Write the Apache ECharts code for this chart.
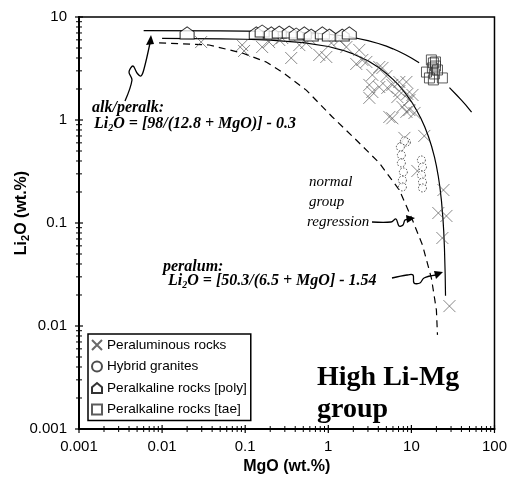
<!DOCTYPE html>
<html lang="en">
<head>
<meta charset="UTF-8">
<title>High Li-Mg group</title>
<script src="https://cdn.jsdelivr.net/npm/echarts@6/dist/echarts.min.js"></script>
<style>
html, body { margin: 0; padding: 0; background: #fff; }
#main { width: 510px; height: 480px; }
</style>
</head>
<body>
<div id="main"></div>
<script>
// points, [MgO, Li2O] in wt.%
var peraluminous = [
    [0.0295, 5.71], [0.092, 5.34], [0.097, 4.68], [0.16, 5.11], [0.194, 5.71], [0.257, 5.98],
    [0.279, 6.25], [0.358, 4.0], [0.448, 5.34], [0.543, 5.59], [0.59, 6.25], [0.78, 4.28],
    [0.946, 4.09], [1.09, 5.59], [1.25, 6.68], [1.36, 5.98], [1.65, 5.11], [2.17, 3.5],
    [2.36, 4.79], [2.57, 3.83], [2.87, 3.66], [3.39, 2.74], [4.11, 3.27], [4.48, 3.2],
    [5.0, 2.67], [3.12, 2.19], [3.39, 1.87], [4.11, 2.09], [5.14, 2.05], [5.9, 2.19],
    [7.16, 2.34], [8.71, 2.34], [3.12, 1.64], [6.78, 1.67], [7.16, 1.91], [8.95, 1.79],
    [9.46, 1.56], [10.3, 1.75], [7.8, 1.34], [5.43, 1.07], [5.9, 1.04], [9.46, 1.25],
    [10.9, 1.17], [8.71, 1.2], [14.3, 0.7], [8.24, 0.67], [11.8, 0.32], [24.3, 0.209],
    [21.1, 0.125], [26.4, 0.117], [23.6, 0.0715], [28.7, 0.0156]
];
var hybrid = [
    [8.71, 0.611], [8.24, 0.625], [7.37, 0.547], [7.58, 0.457], [7.58, 0.383], [8.01, 0.313],
    [7.8, 0.261], [7.8, 0.224], [13.2, 0.409], [13.6, 0.35], [13.2, 0.292], [13.6, 0.25],
    [13.6, 0.219]
];
var peralkPoly = [
    [0.02, 7.0], [0.136, 7.0], [0.16, 7.31], [0.206, 7.0], [0.257, 7.14], [0.339, 7.14],
    [0.411, 6.84], [0.514, 7.0], [0.623, 6.68], [0.848, 7.0], [1.03, 6.68], [1.47, 6.68],
    [1.79, 7.0]
];
var peralkTae = [
    [17.4, 3.83], [18.4, 3.58], [19.5, 3.34], [17.9, 3.2], [20.6, 3.06], [15.2, 2.92],
    [18.9, 2.8], [16.5, 2.56], [18.4, 2.45], [23.6, 2.56], [19.5, 3.66]
];

// curves
var alkCurveA = [
    [0.006, 7.36], [0.05, 7.32], [0.1, 7.3], [0.2, 7.24], [0.5, 7.07], [0.7, 6.96], [1, 6.8],
    [1.5, 6.55], [2, 6.32], [3, 5.9], [4, 5.53], [5, 5.21], [6, 4.91], [7, 4.65], [8.5, 4.3],
    [10, 4.0], [12.4, 3.59]
];
var alkCurveB = [[28.7, 2.06], [35, 1.75], [40, 1.56], [45, 1.4], [53, 1.19]];
var peralumCurve = [
    [0.01, 6.19], [0.05, 6.14], [0.1, 6.08], [0.2, 5.97], [0.5, 5.65], [1, 5.17], [1.5, 4.75],
    [2, 4.38], [3, 3.76], [4, 3.25], [5, 2.83], [6, 2.48], [7, 2.19], [8.5, 1.81], [10, 1.51],
    [11.5, 1.25], [13, 1.04], [14.5, 0.855], [16, 0.696], [17.5, 0.556], [19, 0.433],
    [20, 0.358], [21, 0.289], [22, 0.225], [23, 0.165], [24, 0.109], [24.5, 0.083],
    [25, 0.057], [25.5, 0.032], [25.75, 0.0197]
];
var normalCurve = [
    [0.0092, 5.6], [0.0368, 5.35], [0.092, 4.47], [0.179, 3.66], [0.279, 2.92], [0.543, 1.95],
    [1.12, 1.07], [2.17, 0.64], [4.11, 0.383], [7.16, 0.209], [10.3, 0.107], [13.6, 0.061],
    [17.4, 0.0292], [20.0, 0.0143], [20.6, 0.0082]
];

// axis ticks
var xMajor = [0.001, 0.01, 0.1, 1, 10, 100];
var xMinor = [
    0.002, 0.003, 0.004, 0.005, 0.006, 0.007, 0.008, 0.009,
    0.02, 0.03, 0.04, 0.05, 0.06, 0.07, 0.08, 0.09,
    0.2, 0.3, 0.4, 0.5, 0.6, 0.7, 0.8, 0.9,
    2, 3, 4, 5, 6, 7, 8, 9,
    20, 30, 40, 50, 60, 70, 80, 90
];
var yMajor = [0.001, 0.01, 0.1, 1, 10];
var yMinor = [
    0.002, 0.003, 0.004, 0.005, 0.006, 0.007, 0.008, 0.009,
    0.02, 0.03, 0.04, 0.05, 0.06, 0.07, 0.08, 0.09,
    0.2, 0.3, 0.4, 0.5, 0.6, 0.7, 0.8, 0.9,
    2, 3, 4, 5, 6, 7, 8, 9
];

var chart = echarts.init(document.getElementById('main'));

var SANS = '"Liberation Sans", Arial, sans-serif';
var SERIF = '"Liberation Serif", "Times New Roman", serif';

function curve(name, data, dash) {
    return {
        name: name, type: 'line', data: data, symbol: 'none', silent: true,
        lineStyle: { color: '#000', width: 1.2, type: dash || 'solid' },
        z: 2
    };
}
// squiggly arrow shaft
function squiggle(points) {
    return {
        type: 'polyline', shape: { points: points, smooth: 0.35 },
        style: { fill: null, stroke: '#000', lineWidth: 1.3 }
    };
}
function tickLine(x1, y1, x2, y2, w) {
    return {
        type: 'line', silent: true, z: 10,
        shape: { x1: x1, y1: y1, x2: x2, y2: y2 },
        style: { stroke: '#000', lineWidth: w }
    };
}

// rich-text styles for formulas with a subscript
var formulaRich = {
    m: { fontFamily: SERIF, fontStyle: 'italic', fontWeight: 'bold', fontSize: 16, color: '#000', lineHeight: 18 },
    s: { fontFamily: SERIF, fontStyle: 'italic', fontWeight: 'bold', fontSize: 10, color: '#000', lineHeight: 18, verticalAlign: 'bottom' }
};
var plainItalic = { fontFamily: SERIF, fontStyle: 'italic', fontSize: 15, fill: '#000', verticalAlign: 'middle' };
var boldItalic = { fontFamily: SERIF, fontStyle: 'italic', fontWeight: 'bold', fontSize: 16, fill: '#000', verticalAlign: 'middle' };

var annotations = [
    // y axis title
    {
        type: 'text', x: 22, y: 213, rotation: Math.PI / 2,
        style: {
            text: '{m|Li}{s|2}{m|O (wt.%)}', align: 'center', verticalAlign: 'middle',
            rich: {
                m: { fontFamily: SANS, fontWeight: 'bold', fontSize: 16, color: '#000', lineHeight: 18 },
                s: { fontFamily: SANS, fontWeight: 'bold', fontSize: 11, color: '#000', lineHeight: 18, verticalAlign: 'bottom' }
            }
        }
    },
    { type: 'text', x: 92, y: 108, style: Object.assign({ text: 'alk/peralk:' }, boldItalic) },
    {
        type: 'text', x: 94, y: 124,
        style: { text: '{m|Li}{s|2}{m|O = [98/(12.8 + MgO)] - 0.3}', verticalAlign: 'middle', rich: formulaRich }
    },
    { type: 'text', x: 163, y: 267, style: Object.assign({ text: 'peralum:' }, boldItalic) },
    {
        type: 'text', x: 168, y: 281,
        style: { text: '{m|Li}{s|2}{m|O = [50.3/(6.5 + MgO] - 1.54}', verticalAlign: 'middle', rich: formulaRich }
    },
    { type: 'text', x: 309, y: 182, style: Object.assign({ text: 'normal' }, plainItalic) },
    { type: 'text', x: 309, y: 202, style: Object.assign({ text: 'group' }, plainItalic) },
    { type: 'text', x: 307, y: 222, style: Object.assign({ text: 'regression' }, plainItalic) },
    {
        type: 'text', x: 317, y: 378,
        style: { text: 'High Li-Mg', fontFamily: SERIF, fontWeight: 'bold', fontSize: 28, fill: '#000', verticalAlign: 'middle' }
    },
    {
        type: 'text', x: 317, y: 410,
        style: { text: 'group', fontFamily: SERIF, fontWeight: 'bold', fontSize: 28, fill: '#000', verticalAlign: 'middle' }
    },
    // squiggly arrows
    squiggle([[125, 101], [132, 80], [129, 72], [133, 66], [137, 73], [141, 76], [144, 69], [150, 43]]),
    { type: 'polygon', shape: { points: [[151, 35], [146, 45], [154, 44]] }, style: { fill: '#000' } },
    squiggle([[372, 222], [391, 222], [396, 219], [399, 226], [403, 225], [405, 220], [409, 219.5]]),
    { type: 'polygon', shape: { points: [[415, 218], [406, 215], [407, 223]] }, style: { fill: '#000' } },
    squiggle([[392, 278], [407, 275], [413, 275], [414, 283], [420, 283], [424, 278], [436, 275]]),
    { type: 'polygon', shape: { points: [[443, 272], [434, 271], [436, 279]] }, style: { fill: '#000' } }
];

var option = {
    animation: false,
    backgroundColor: '#fff',
    grid: {
        left: 79, right: 15, top: 17, bottom: 51,
        show: true, borderColor: '#000', borderWidth: 1.5, backgroundColor: 'transparent'
    },
    xAxis: {
        type: 'log', logBase: 10, min: 0.001, max: 100,
        name: 'MgO (wt.%)', nameLocation: 'middle', nameGap: 30,
        nameTextStyle: { fontFamily: SANS, fontWeight: 'bold', fontSize: 16, color: '#000' },
        axisLine: { lineStyle: { color: '#000', width: 2 } },
        axisTick: { show: false },
        splitLine: { show: false },
        axisLabel: { fontFamily: SANS, fontSize: 15, color: '#000', margin: 10 }
    },
    yAxis: {
        type: 'log', logBase: 10, min: 0.001, max: 10,
        axisLine: { lineStyle: { color: '#000', width: 2 } },
        axisTick: { show: false },
        splitLine: { show: false },
        axisLabel: { fontFamily: SANS, fontSize: 15, color: '#000', margin: 12 }
    },
    legend: {
        data: ['Peraluminous rocks', 'Hybrid granites', 'Peralkaline rocks [poly]', 'Peralkaline rocks [tae]'],
        orient: 'vertical', left: 88, top: 334,
        padding: [4, 4, 4, 3], itemGap: 7.5, itemWidth: 10, itemHeight: 10, itemTextGap: 3,
        borderColor: '#000', borderWidth: 1.5, backgroundColor: '#fff',
        selectedMode: false,
        textStyle: { fontFamily: SANS, fontSize: 13.6, color: '#000' }
    },
    series: [
        curve('alkA', alkCurveA),
        curve('alkB', alkCurveB),
        curve('peralum', peralumCurve),
        curve('normal', normalCurve, [7, 5]),
        {
            name: 'Peraluminous rocks', type: 'scatter', data: peraluminous,
            symbol: 'path://M0,0L10,10M10,0L0,10', symbolSize: 12,
            itemStyle: { color: 'transparent', borderColor: '#444', borderWidth: 0.8 }, z: 3
        },
        {
            name: 'Hybrid granites', type: 'scatter', data: hybrid,
            symbol: 'circle', symbolSize: 8,
            itemStyle: { color: '#fff', borderColor: '#222', borderWidth: 1, borderType: [1.5, 1.5] }, z: 3
        },
        {
            name: 'Peralkaline rocks [poly]', type: 'scatter', data: peralkPoly,
            symbol: 'path://M0,12L0,5L6,0L12,5L12,12Z', symbolSize: [14, 12],
            itemStyle: { color: '#fff', borderColor: '#000', borderWidth: 1 }, z: 4
        },
        {
            name: 'Peralkaline rocks [tae]', type: 'scatter', data: peralkTae,
            symbol: 'rect', symbolSize: 10,
            itemStyle: { color: 'transparent', borderColor: '#333', borderWidth: 1 }, z: 4
        }
    ],
    graphic: annotations
};

chart.setOption(option);

// axis ticks (major and minor) crossing the axis lines, placed through the axis scales
var ticks = [];
function addXTick(v, half, w) {
    var p = chart.convertToPixel({ gridIndex: 0 }, [v, 0.001]);
    ticks.push(tickLine(p[0], p[1] - half, p[0], p[1] + half, w));
}
function addYTick(v, half, w) {
    var p = chart.convertToPixel({ gridIndex: 0 }, [0.001, v]);
    ticks.push(tickLine(p[0] - half, p[1], p[0] + half, p[1], w));
}
xMajor.forEach(function (v) { addXTick(v, 4, 1.2); });
xMinor.forEach(function (v) { addXTick(v, 3, 1); });
yMajor.forEach(function (v) { addYTick(v, 4, 1.2); });
yMinor.forEach(function (v) { addYTick(v, 3, 1); });

chart.setOption({ graphic: annotations.concat(ticks) });
</script>
</body>
</html>
